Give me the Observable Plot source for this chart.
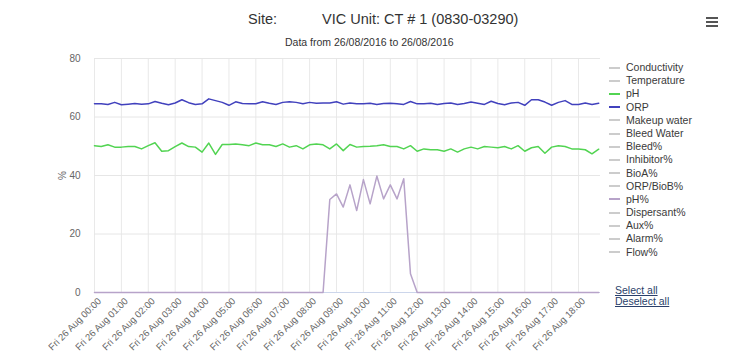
<!DOCTYPE html>
<html>
<head>
<meta charset="utf-8">
<script src="https://cdn.jsdelivr.net/npm/d3@7"></script>
<script src="https://cdn.jsdelivr.net/npm/@observablehq/plot@0.6"></script>
<style>
  body { margin: 0; background: #fff; }
  #wrap { position: relative; width: 734px; height: 358px; font-family: "Liberation Sans", Arial, sans-serif; color: #333; overflow: hidden; }
  #chart { position: absolute; left: 0; top: 0; }
  .t { position: absolute; white-space: nowrap; }
  #legend { position: absolute; left: 609px; top: 61px; font-size: 10.5px; color: #3a3a3a; }
  #legend .it { height: 13.2px; line-height: 13.2px; display: flex; align-items: center; }
  #legend .sw { width: 11px; height: 2px; margin-right: 6px; }
  .lnk { position: absolute; left: 615px; font-size: 10.5px; color: #2a3f6a; text-decoration: underline; }
  .hb { position: absolute; left: 706px; width: 12px; height: 2px; background: #555; }
</style>
</head>
<body>
<div id="wrap">
  <div id="chart"></div>
  <div class="t" style="left:248px; top:11px; font-size:14.5px; color:#333;">Site:</div>
  <div class="t" style="left:322px; top:11px; font-size:14.5px; color:#333;">VIC Unit: CT # 1 (0830-03290)</div>
  <div class="t" style="left:285px; top:36px; font-size:10.5px; color:#333;">Data from 26/08/2016 to 26/08/2016</div>
  <div class="hb" style="top:17px"></div>
  <div class="hb" style="top:21px"></div>
  <div class="hb" style="top:25px"></div>
  <div id="legend"></div>
  <div class="lnk" style="top:284px">Select all</div>
  <div class="lnk" style="top:295px">Deselect all</div>
</div>
<script>
// ---- data (15-minute readings, 26 Aug 2016, 00:00 to 18:45) ----
const startTime = Date.UTC(2016, 7, 26, 0, 0);
const stepMinutes = 15;

const orpValues = [
  64.5,64.5,64.3,65.0,64.2,64.4,64.6,64.4,64.5,65.3,
  64.7,64.2,64.8,65.9,64.9,64.3,64.5,66.2,65.6,65.0,
  64.0,65.2,64.6,64.5,64.5,65.2,64.7,64.3,65.0,65.2,
  65.0,64.5,65.0,64.7,64.8,64.8,65.2,64.4,64.8,64.5,
  64.5,64.7,64.3,64.6,64.7,64.5,64.3,65.3,64.5,64.5,
  64.7,64.3,64.6,64.8,64.3,64.6,65.1,64.7,64.3,65.4,
  64.6,64.2,64.8,65.0,64.0,65.9,65.9,65.1,64.0,65.0,
  65.6,64.3,64.3,64.8,64.3,64.7
];
const phValues = [
  50.2,49.9,50.5,49.7,49.7,49.9,49.9,49.1,50.2,51.2,
  48.3,48.5,49.9,51.1,49.9,49.7,48.0,51.1,47.2,50.6,
  50.6,50.8,50.5,50.2,51.1,50.5,50.5,49.9,50.8,49.7,
  50.2,49.1,50.5,50.8,50.5,49.1,50.8,48.5,50.6,49.7,
  49.9,50.0,50.2,50.5,49.9,49.9,49.1,50.2,48.3,49.1,
  48.8,48.8,48.3,49.1,48.0,49.1,49.7,49.1,49.9,49.7,
  49.5,49.9,49.1,50.2,48.3,49.5,49.9,47.6,49.7,50.2,
  49.9,49.1,49.1,48.8,47.4,49.0
];
const phPctValues = [
  0,0,0,0,0,0,0,0,0,0,
  0,0,0,0,0,0,0,0,0,0,
  0,0,0,0,0,0,0,0,0,0,
  0,0,0,0,0,31.8,33.7,29.2,36.8,28.0,
  38.6,30.3,39.8,32.0,36.8,32.0,38.9,6.4,0,0,
  0,0,0,0,0,0,0,0,0,0,
  0,0,0,0,0,0,0,0,0,0,
  0,0,0,0,0,0
];
const yTicks = [0, 20, 40, 60, 80];
const legendNames = ["Conductivity","Temperature","pH","ORP","Makeup water","Bleed Water","Bleed%","Inhibitor%","BioA%","ORP/BioB%","pH%","Dispersant%","Aux%","Alarm%","Flow%"];
const seriesColors = {"pH": "#52d452", "ORP": "#4141bd", "pH%": "#b7a3c9"};
const xEnd = Date.UTC(2016, 7, 26, 18, 49);
const xTickHours = d3.range(0, 19);

// ---- build ----
const times = orpValues.map((_, i) => new Date(startTime + i * stepMinutes * 60000));
const rows = [];
[["pH", phValues], ["ORP", orpValues], ["pH%", phPctValues]].forEach(([name, vals]) =>
  vals.forEach((v, i) => rows.push({series: name, t: times[i], v})));
const hourTicks = xTickHours.map(h => new Date(startTime + h * 3600000));
const fmt = d3.utcFormat("%a %d %b %H:%M");

const chart = Plot.plot({
  width: 734,
  height: 358,
  marginTop: 58,
  marginBottom: 66,
  marginLeft: 94,
  marginRight: 134,
  style: {fontFamily: "'Liberation Sans', Arial, sans-serif", fontSize: "10px", color: "#666", background: "transparent"},
  x: {type: "utc", domain: [new Date(startTime), new Date(xEnd)]},
  y: {domain: [0, 80]},
  marks: [
    Plot.ruleX(hourTicks, {stroke: "#e9e9e9", strokeWidth: 1}),
    Plot.ruleY(yTicks.filter(d => d > 0), {stroke: "#e6e6e6", strokeWidth: 1}),
    Plot.ruleY([0], {stroke: "#ccd6eb", strokeWidth: 1}),
    Plot.axisY({ticks: yTicks, tickSize: 0, tickPadding: 14, label: "%", labelAnchor: "center", labelOffset: 36, labelArrow: "none"}),
    Plot.axisX({ticks: hourTicks, tickFormat: fmt, tickRotate: -45, tickSize: 0, tickPadding: 7, dx: 5, fontSize: 9.5, label: null}),
    Plot.line(rows, {x: "t", y: "v", z: "series", stroke: d => seriesColors[d.series], strokeWidth: 1.5, curve: "linear"})
  ]
});
document.getElementById("chart").appendChild(chart);

const legend = document.getElementById("legend");
legendNames.forEach(n => {
  const it = document.createElement("div");
  it.className = "it";
  const sw = document.createElement("span");
  sw.className = "sw";
  sw.style.background = seriesColors[n] || "#cccccc";
  const tx = document.createElement("span");
  tx.textContent = n;
  it.appendChild(sw); it.appendChild(tx);
  legend.appendChild(it);
});
</script>
</body>
</html>
